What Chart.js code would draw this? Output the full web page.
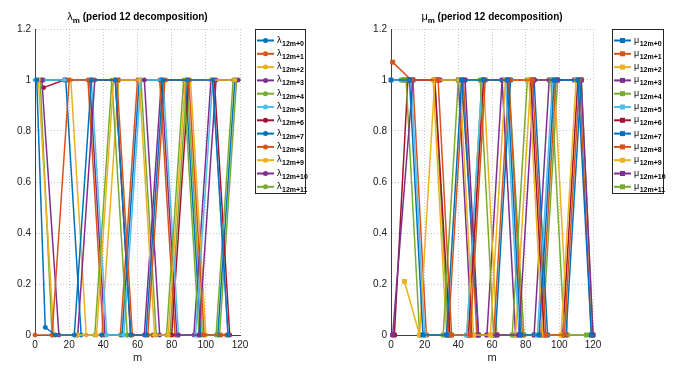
<!DOCTYPE html>
<html>
<head>
<meta charset="utf-8">
<script src="https://cdn.jsdelivr.net/npm/chart.js@4"></script>
<style>
  html, body { margin: 0; padding: 0; background: #fff; }
  #wrap { position: relative; width: 678px; height: 370px; }
  .box { position: absolute; top: 0; width: 339px; height: 370px; }
</style>
</head>
<body>
<div id="wrap">
  <div class="box" style="left:0"><canvas id="lam" width="339" height="370"></canvas></div>
  <div class="box" style="left:339px"><canvas id="mu" width="339" height="370"></canvas></div>
</div>
<script>
const colors = ['#0072BD', '#D95319', '#EDB120', '#7E2F8E', '#77AC30', '#4DBEEE', '#A2142F',
                '#0072BD', '#D95319', '#EDB120', '#7E2F8E', '#77AC30'];
const subNames = ['12m+0', '12m+1', '12m+2', '12m+3', '12m+4', '12m+5', '12m+6',
                  '12m+7', '12m+8', '12m+9', '12m+10', '12m+11'];
const xTicks = [0, 20, 40, 60, 80, 100, 120];
const yTicks = [0, 0.2, 0.4, 0.6, 0.8, 1, 1.2];

// lambda_{12m+k}, points as [m, value]
const lam0 = [[1,1],[6,0.03],[12,0],[23,0],[33,1],[47,1],[56,0],[65,0],[75,1],[89,1],[104,1],[113,0]];
const lam1 = [[0,0],[10,0],[20,1],[34,1],[48,1],[57,0],[66,0],[76,1],[90,1],[99,0],[112,0]];
const lam2 = [[2,1],[11,0],[25,0],[36,0],[46,1],[61,1],[70,0],[78,0],[88,1],[103,1],[117,1]];
const lam3 = [[4,1],[14,0],[25,0],[35,1],[49,1],[64,1],[73,0],[84,0],[96,0],[106,1],[119,1]];
const lam4 = [[3,1],[10,0],[24,0],[35,0],[45,1],[54,0],[66,0],[77,0],[87,1],[96,0],[106,0],[116,1]];
const lam5 = [[0,1],[17,1],[33,1],[42,0],[52,0],[62,1],[75,1],[84,0],[94,0],[104,1],[113,0]];
const lam6 = [[5,0.97],[17,1],[33,1],[47,1],[56,0],[69,0],[80,0],[90,1],[105,1],[114,0]];
const lam7 = [[1,1],[18,1],[27,0],[39,0],[51,0],[61,1],[74,1],[88,1],[97,0],[107,0],[117,1]];
const lam8 = [[2,1],[17,1],[31,1],[40,0],[50,0],[60,1],[73,1],[82,0],[95,0],[109,0]];
const lam9 = [[4,1],[21,1],[30,0],[39,0],[49,1],[64,1],[77,1],[91,1],[100,0],[113,0]];
const lam10 = [[5,1],[18,1],[32,1],[41,0],[54,0],[64,0],[74,1],[83,0],[93,0],[103,1],[117,1]];
const lam11 = [[4,1],[19,1],[33,1],[47,1],[62,1],[71,0],[79,0],[89,1],[98,0],[108,0],[118,1]];

// mu_{12m+k}
const mu0 = [[0,1],[11,1],[19,0],[33,0],[42,1],[55,1],[69,1],[77,0],[88,0],[97,1],[111,1],[119,0]];
const mu1 = [[1,1.07],[12,1],[28,1],[36,0],[47,0],[56,1],[70,1],[84,1],[92,0],[103,0],[112,1]];
const mu2 = [[8,0.21],[17,0],[26,1],[41,1],[49,0],[59,0],[68,1],[82,1],[90,0],[101,0],[110,1]];
const mu3 = [[1,0],[13,1],[29,1],[44,1],[52,0],[63,0],[76,0],[85,1],[99,1],[113,1],[120,0]];
const mu4 = [[7,1],[9,1],[17,0],[31,0],[40,1],[53,1],[61,0],[72,0],[81,1],[95,1],[103,0],[116,0]];
const mu5 = [[6,1],[12,1],[20,0],[35,0],[45,0],[54,1],[68,1],[76,0],[87,0],[96,1],[113,1]];
const mu6 = [[2,0],[10,1],[26,1],[35,0],[46,0],[55,1],[69,1],[83,1],[91,0],[102,0],[111,1]];
const mu7 = [[8,1],[11,1],[27,1],[42,1],[52,0],[62,0],[71,1],[85,1],[93,0],[104,0],[113,1]];
const mu8 = [[7,1],[13,1],[21,0],[34,0],[43,1],[51,0],[61,0],[70,1],[78,0],[89,0],[98,1],[112,1],[119,0]];
const mu9 = [[9,1],[25,1],[33,0],[46,0],[55,1],[63,0],[74,0],[83,1],[97,1],[105,0],[118,0]];
const mu10 = [[10,1],[12,1],[28,1],[40,1],[48,0],[57,0],[66,1],[74,0],[85,0],[94,1],[109,1]];
const mu11 = [[9,1],[26,1],[34,0],[45,0],[54,1],[70,1],[79,0],[90,0],[99,1],[113,1],[120,0]];

const lamSeries = [lam0, lam1, lam2, lam3, lam4, lam5, lam6, lam7, lam8, lam9, lam10, lam11];
const muSeries = [mu0, mu1, mu2, mu3, mu4, mu5, mu6, mu7, mu8, mu9, mu10, mu11];

const FONT = '"Liberation Sans", Arial, Helvetica, sans-serif';

// title with subscript and boxed legend with subscripts (Chart.js legend can't do subscripts)
const decoPlugin = {
    id: 'deco',
    afterDraw(chart, args, o) {
        const ctx = chart.ctx;
        const a = chart.chartArea;
        ctx.save();
        ctx.fillStyle = '#000';
        ctx.textBaseline = 'alphabetic';

        // title
        const fSym = '11px ' + FONT;
        const fSub = 'bold 8px ' + FONT;
        const fRest = 'bold 10px ' + FONT;
        const rest = ' (period 12 decomposition)';
        ctx.font = fSym; const w1 = ctx.measureText(o.sym).width;
        ctx.font = fSub; const w2 = ctx.measureText('m').width;
        ctx.font = fRest; const w3 = ctx.measureText(rest).width;
        let tx = (a.left + a.right) / 2 - (w1 + w2 + w3) / 2;
        const ty = 20;
        ctx.font = fSym; ctx.fillText(o.sym, tx, ty); tx += w1;
        ctx.font = fSub; ctx.fillText('m', tx, ty + 3); tx += w2;
        ctx.font = fRest; ctx.fillText(rest, tx, ty);

        // legend
        const lx = o.x, ly = 29, lw = o.w, lh = 164;
        ctx.fillStyle = '#fff';
        ctx.fillRect(lx, ly, lw, lh);
        ctx.strokeStyle = '#262626';
        ctx.lineWidth = 1;
        ctx.strokeRect(lx + 0.5, ly + 0.5, lw, lh);
        chart.data.datasets.forEach((ds, i) => {
            const y = 40.5 + i * 13.3;
            ctx.strokeStyle = ds.borderColor;
            ctx.lineWidth = 2;
            ctx.beginPath();
            ctx.moveTo(lx + 2, y);
            ctx.lineTo(lx + 19, y);
            ctx.stroke();
            ctx.fillStyle = ds.borderColor;
            if (o.square) {
                ctx.fillRect(lx + 8, y - 2.5, 5, 5);
            } else {
                ctx.beginPath();
                ctx.arc(lx + 10.5, y, 2.5, 0, Math.PI * 2);
                ctx.fill();
            }
            ctx.fillStyle = '#000';
            ctx.font = '9px ' + FONT;
            ctx.fillText(o.sym, lx + 22, y + 2);
            const sw = ctx.measureText(o.sym).width;
            ctx.font = 'bold 7px ' + FONT;
            ctx.fillText(subNames[i], lx + 22 + sw + 0.5, y + 5);
        });
        ctx.restore();
    }
};

function makeChart(id, series, sym, square, axisWidth, padRight, legendX, legendW) {
    const datasets = series.map((arr, i) => ({
        data: arr.map(p => ({ x: p[0], y: p[1] })),
        borderColor: colors[i],
        backgroundColor: colors[i],
        borderWidth: 1.5,
        pointStyle: square ? 'rect' : 'circle',
        pointRadius: square ? 2.8 : 2,
        pointBorderWidth: 1,
        clip: false,
        tension: 0
    }));

    return new Chart(document.getElementById(id), {
        type: 'line',
        data: { datasets: datasets },
        plugins: [decoPlugin],
        options: {
            responsive: false,
            animation: false,
            layout: { padding: { left: 0, right: padRight, top: 29, bottom: 0 } },
            plugins: {
                legend: { display: false },
                tooltip: { enabled: false },
                deco: { sym: sym, square: square, x: legendX, w: legendW }
            },
            scales: {
                x: {
                    type: 'linear',
                    min: 0,
                    max: 120,
                    afterBuildTicks: s => { s.ticks = xTicks.map(v => ({ value: v })); },
                    afterFit: s => { s.height = 35; },
                    grid: { color: 'rgba(0,0,0,0.22)', drawTicks: false },
                    border: { color: '#404040', width: 1, dash: [1, 2] },
                    ticks: { padding: 4, color: '#222', font: { size: 10, family: FONT } },
                    title: { display: true, text: 'm', color: '#222', font: { size: 11, family: FONT }, padding: { top: 0, bottom: 5 } }
                },
                y: {
                    min: 0,
                    max: 1.2,
                    afterBuildTicks: s => { s.ticks = yTicks.map(v => ({ value: v })); },
                    afterFit: s => { s.width = axisWidth; },
                    grid: { color: 'rgba(0,0,0,0.22)', drawTicks: false },
                    border: { color: '#404040', width: 1, dash: [1, 2] },
                    ticks: {
                        padding: 4, color: '#222', font: { size: 10, family: FONT },
                        callback: v => String(Math.round(v * 10) / 10)
                    }
                }
            }
        }
    });
}

makeChart('lam', lamSeries, 'λ', false, 35, 99, 255, 50);
makeChart('mu', muSeries, 'μ', true, 52, 85, 273, 51);
</script>
</body>
</html>
